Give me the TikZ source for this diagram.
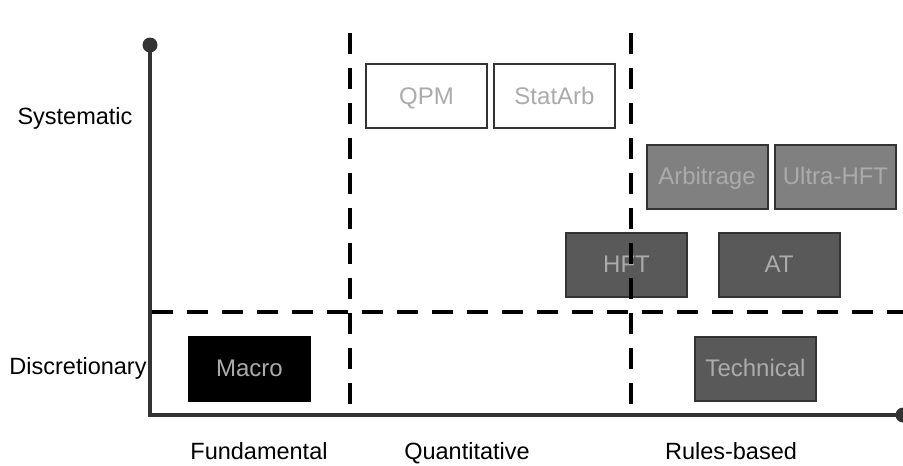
\documentclass[tikz,border=0pt]{standalone}
\usepackage{fontspec}
\setmainfont{Liberation Sans}
\definecolor{axisgray}{HTML}{333333}
\definecolor{textgray}{HTML}{ABABAB}
\definecolor{midgray}{HTML}{808080}
\definecolor{darkgray2}{HTML}{595959}
\begin{document}
\begin{tikzpicture}[x=1pt,y=-1pt,
  lbl/.style={font=\fontsize{23.5}{28}\selectfont, text=black, inner sep=0pt,
    text height=17pt, text depth=5pt},
  cat/.style={draw=axisgray, line width=2pt, minimum width=121pt, minimum height=64pt,
    inner sep=0pt, font=\fontsize{24}{28}\selectfont, text=textgray,
    text height=18pt, text depth=2pt},
  whitebox/.style={cat, fill=white},
  greybox/.style={cat, fill=midgray},
  darkbox/.style={cat, fill=darkgray2},
  blackbox/.style={cat, fill=black, draw=black},
  divider/.style={line width=4.5pt, dash pattern=on 21pt off 14pt}]
\useasboundingbox (0,0) rectangle (903,466);

% axes
\coordinate (top) at (150,45);
\coordinate (origin) at (150,415);
\coordinate (right) at (903,415);
\draw[axisgray, line width=4pt] (top) -- (origin) -- (right);
\fill[axisgray] (top) circle (7.5);
\fill[axisgray] (right) circle (7.5);

% category boxes
\node[whitebox] (qpm) at (426.5,96) {QPM};
\node[whitebox] (statarb) at (554.5,96) {StatArb};
\node[greybox] (arb) at (707,176.5) {Arbitrage};
\node[greybox] (uhft) at (835.5,176.5) {Ultra-HFT};
\node[darkbox] (hft) at (626.5,264.5) {HFT};
\node[darkbox] (at) at (779,264.5) {AT};
\node[darkbox] (tech) at (755.5,368.5) {Technical};
\node[blackbox] (macro) at (249.5,368.5) {Macro};

% dashed dividers
\coordinate (v1t) at (350,33);
\coordinate (v1b) at (350,415);
\coordinate (v2t) at (631,33);
\coordinate (v2b) at (631,415);
\coordinate (hl) at (152,312);
\coordinate (hr) at (903,312);
\draw[divider] (v1t) -- (v1b);
\draw[divider] (v2t) -- (v2b);
\draw[divider] (hl) -- (hr);

% axis labels
\node[lbl] (sys) at (75,118) {Systematic};
\node[lbl] (disc) at (78,368) {Discretionary};
\node[lbl] (fund) at (259,453) {Fundamental};
\node[lbl] (quant) at (467,453) {Quantitative};
\node[lbl] (rules) at (731,453) {Rules-based};
\end{tikzpicture}
\end{document}
